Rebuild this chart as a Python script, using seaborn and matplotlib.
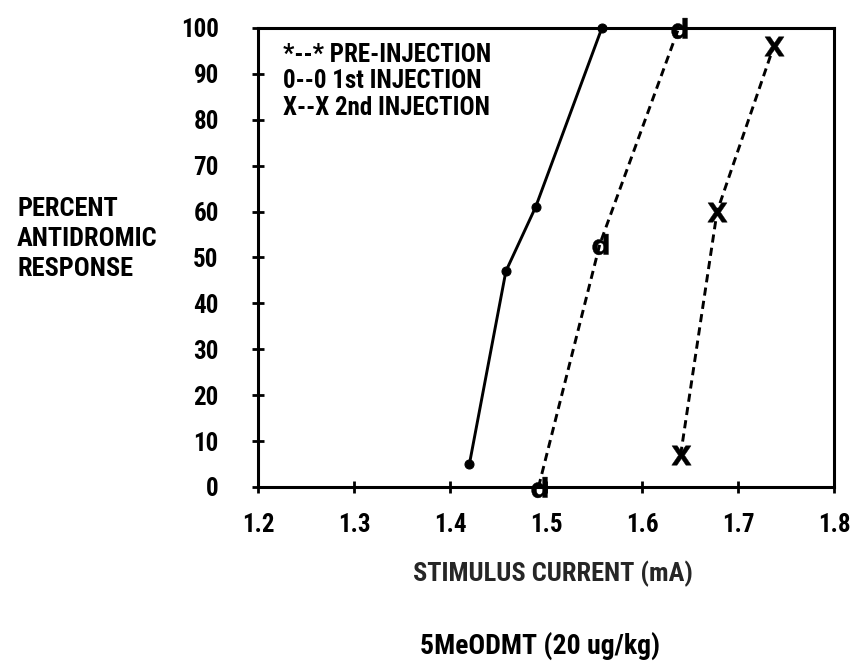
import matplotlib
matplotlib.use('Agg')
import matplotlib.pyplot as plt
import seaborn as sns

# data
pre_x = [1.42, 1.458, 1.489, 1.558]
pre_y = [5, 47, 61, 100]

inj1_x = [1.492, 1.556, 1.638]
inj1_y = [0, 53, 100]

inj2_x = [1.64, 1.678, 1.737]
inj2_y = [7, 60, 96]

x_ticks = [1.2, 1.3, 1.4, 1.5, 1.6, 1.7, 1.8]
y_ticks = [0, 10, 20, 30, 40, 50, 60, 70, 80, 90, 100]

legend_lines = ['*--* PRE-INJECTION', '0--0 1st INJECTION', 'X--X 2nd INJECTION']

sns.set_style('white')
plt.rcParams['font.family'] = ['Roboto Condensed', 'DejaVu Sans']
plt.rcParams['font.weight'] = 'bold'
plt.rcParams['text.color'] = 'black'
plt.rcParams['xtick.color'] = 'black'
plt.rcParams['ytick.color'] = 'black'

fig = plt.figure(figsize=(8.55, 6.62), dpi=100)
ax = fig.add_axes([0.302, 0.2644, 0.6737, 0.6934])

sns.lineplot(x=pre_x, y=pre_y, ax=ax, color='black', linewidth=2.1,
             marker='o', markersize=6.5, markeredgecolor='black', clip_on=False)
sns.lineplot(x=inj1_x, y=inj1_y, ax=ax, color='black', linewidth=2.1,
             linestyle=(0, (2.8, 1.8)), marker='$\\mathsf{d}$', markersize=15,
             markeredgewidth=0.3, markeredgecolor='black', clip_on=False)
sns.lineplot(x=inj2_x, y=inj2_y, ax=ax, color='black', linewidth=2.1,
             linestyle=(0, (2.8, 1.8)), marker='$\\mathsf{X}$', markersize=14,
             markeredgewidth=0.3, markeredgecolor='black', clip_on=False)

ax.set_xlim(1.2, 1.8)
ax.set_ylim(0, 100)
ax.set_xticks(x_ticks)
ax.set_yticks(y_ticks)
ax.set_xticklabels([str(v) for v in x_ticks], fontsize=18, fontweight='bold')
ax.set_yticklabels([str(v) for v in y_ticks], fontsize=18, fontweight='bold')
ax.tick_params(axis='both', direction='inout', length=9, width=2,
               color='black', bottom=True, left=True)
ax.tick_params(axis='x', pad=14.5)
ax.tick_params(axis='y', pad=24)

for side in ['left', 'right', 'top', 'bottom']:
    ax.spines[side].set_visible(True)
    ax.spines[side].set_color('black')
    ax.spines[side].set_linewidth(2.2)

# legend is typed text in the original
for i, line in enumerate(legend_lines):
    ax.text(0.043, 0.942 - i * 0.058, line, transform=ax.transAxes,
            fontsize=18, fontweight='bold', va='center', ha='left')

ax.set_xlabel('STIMULUS CURRENT (mA)', fontsize=19, fontweight='bold')
ax.xaxis.set_label_coords(0.512, -0.19)
ax.xaxis.label.set_va('center')
ax.set_ylabel('')
fig.text(0.02, 0.639, 'PERCENT\nANTIDROMIC\nRESPONSE', fontsize=19,
         fontweight='bold', ha='left', va='center', linespacing=1.3)
fig.text(0.632, 0.024, '5MeODMT (20 ug/kg)', fontsize=20,
         fontweight='bold', ha='center', va='center')

fig.savefig('out.png', dpi=100)
